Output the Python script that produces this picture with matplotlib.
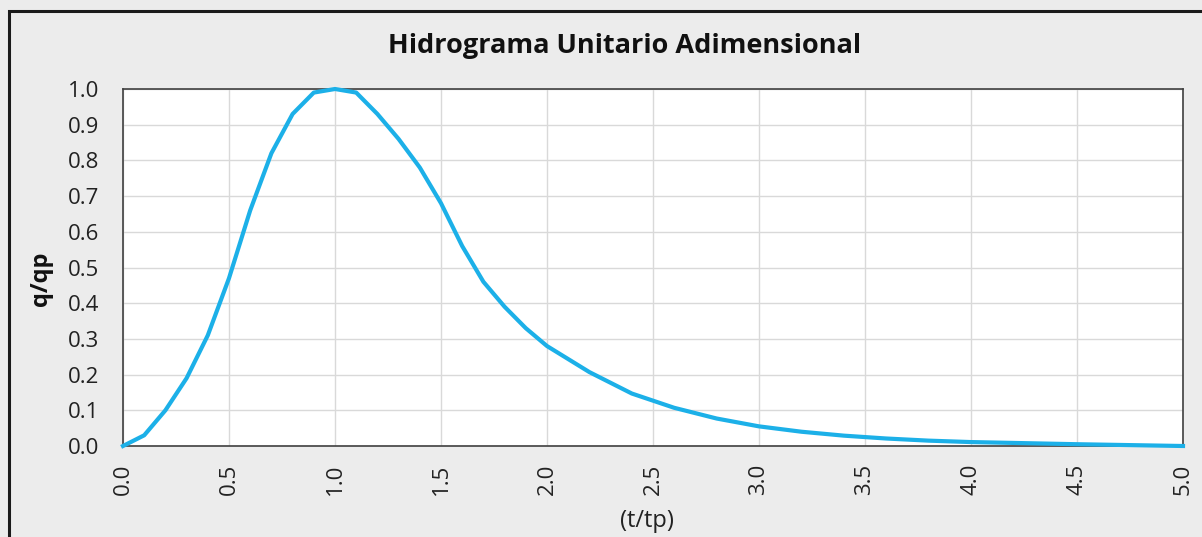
import matplotlib.pyplot as plt
from matplotlib.patches import Rectangle

# SCS dimensionless unit hydrograph
t_tp = [0.0, 0.1, 0.2, 0.3, 0.4, 0.5, 0.6, 0.7, 0.8, 0.9, 1.0,
        1.1, 1.2, 1.3, 1.4, 1.5, 1.6, 1.7, 1.8, 1.9, 2.0,
        2.2, 2.4, 2.6, 2.8, 3.0, 3.2, 3.4, 3.6, 3.8, 4.0, 4.5, 5.0]
q_qp = [0.000, 0.030, 0.100, 0.190, 0.310, 0.470, 0.660, 0.820, 0.930, 0.990, 1.000,
        0.990, 0.930, 0.860, 0.780, 0.680, 0.560, 0.460, 0.390, 0.330, 0.280,
        0.207, 0.147, 0.107, 0.077, 0.055, 0.040, 0.029, 0.021, 0.015, 0.011, 0.005, 0.000]
x_ticks = [0.0, 0.5, 1.0, 1.5, 2.0, 2.5, 3.0, 3.5, 4.0, 4.5, 5.0]
y_ticks = [0.0, 0.1, 0.2, 0.3, 0.4, 0.5, 0.6, 0.7, 0.8, 0.9, 1.0]

plt.rcParams['font.family'] = ['Open Sans', 'DejaVu Sans']

fig = plt.figure(figsize=(12.02, 5.37), dpi=100)
fig.patch.set_facecolor('#ececec')
fig.patches.append(Rectangle((9 / 1202, -0.05), 1.2, 1 - 11 / 537 + 0.05,
                             transform=fig.transFigure, fill=False,
                             edgecolor='#1a1a1a', linewidth=2.2))

ax = fig.add_axes([123 / 1202, 1 - 446 / 537, 1060 / 1202, 357 / 537])
ax.set_facecolor('white')
ax.plot(t_tp, q_qp, color='#1cb0e8', linewidth=3, clip_on=False, zorder=3)

ax.set_xlim(0, 5)
ax.set_ylim(0, 1)
ax.set_xticks(x_ticks)
ax.set_yticks(y_ticks)
ax.set_xticklabels([f'{v:.1f}' for v in x_ticks], rotation=90)
ax.set_yticklabels([f'{v:.1f}' for v in y_ticks])
ax.tick_params(length=0, labelsize=16, colors='#222222')
ax.tick_params(axis='y', pad=17)
ax.tick_params(axis='x', pad=13)
ax.grid(color='#d9d9d9', linewidth=1)
ax.set_axisbelow(True)
for s in ax.spines.values():
    s.set_color('#404040')
    s.set_linewidth(1.2)

fig.text(625 / 1202, 1 - 46 / 537, 'Hidrograma Unitario Adimensional',
         ha='center', va='center', fontsize=19.5, fontweight='bold', color='#111111')
fig.text(41 / 1202, 1 - 279 / 537, 'q/qp', ha='center', va='center',
         rotation=90, fontsize=17, fontweight='bold', color='#111111')
fig.text(647 / 1202, 1 - 521 / 537, '(t/tp)', ha='center', va='center',
         fontsize=17, color='#222222')

fig.savefig('out.png', dpi=100, facecolor=fig.get_facecolor())
